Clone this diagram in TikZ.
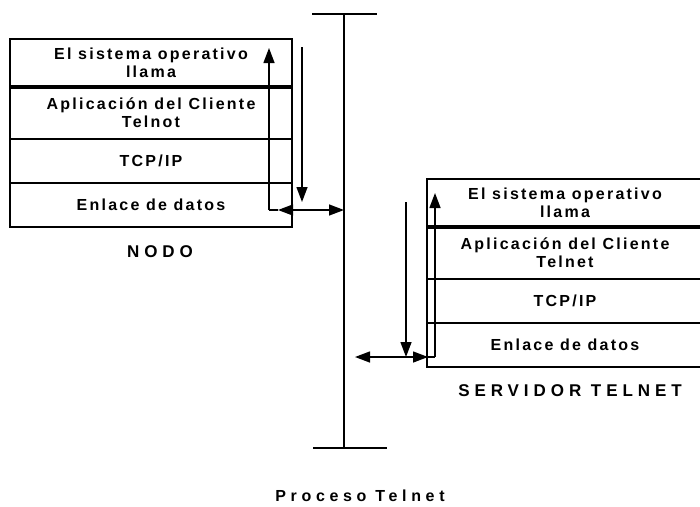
\documentclass[tikz,border=0pt]{standalone}
\usepackage{fontspec}
\setmainfont{Liberation Sans}
\newfontfamily\capafont[LetterSpace=14]{Liberation Sans}
\newfontfamily\titfont[LetterSpace=29]{Liberation Sans}
\usetikzlibrary{positioning,arrows.meta}

\begin{document}
\begin{tikzpicture}[x=1pt, y=-1pt,
    capa/.style={rectangle, draw, line width=1.5pt, inner sep=0pt, outer sep=0pt, align=center, font=\capafont\bfseries\fontsize{16}{18}\selectfont},
    nodo/.style={capa, minimum width=282pt},
    serv/.style={capa, minimum width=276pt},
    titulo/.style={font=\titfont\bfseries\fontsize{17}{19}\selectfont},
    f/.style={-{Triangle[length=15pt,width=11pt]}, line width=1.4pt},
    ff/.style={{Triangle[length=15pt,width=11pt]}-{Triangle[length=15pt,width=11pt]}, line width=1.4pt}
]
    \useasboundingbox (0,0) rectangle (700,506);
    % pila del nodo
    \node[nodo, minimum height=48pt] (c1) at (151,63) {El sistema operativo\\llama};
    \node[nodo, minimum height=52pt, below=0pt of c1] (c2) {Aplicación del Cliente\\Telnot};
    \node[nodo, minimum height=44pt, below=0pt of c2] (c3) {TCP/IP};
    \node[nodo, minimum height=44pt, below=0pt of c3] (c4) {Enlace de datos};
    \draw[line width=4.5pt] (c1.south west) -- (c1.south east);
    \node[titulo] (nodo) at (160,252) {NODO};

    % pila del servidor
    \node[serv, minimum height=48pt] (s1) at (565,203) {El sistema operativo\\llama};
    \node[serv, minimum height=52pt, below=0pt of s1] (s2) {Aplicación del Cliente\\Telnet};
    \node[serv, minimum height=44pt, below=0pt of s2] (s3) {TCP/IP};
    \node[serv, minimum height=44pt, below=0pt of s3] (s4) {Enlace de datos};
    \draw[line width=4.5pt] (s1.south west) -- (s1.south east);
    \node[titulo] (servidor) at (570,391) {SERVIDOR TELNET};

    % linea del proceso
    \coordinate (p0) at (344,14);
    \coordinate (p1) at (344,448);
    \draw[line width=1.5pt] (p0) -- (p1);
    \draw[line width=1.5pt] ([xshift=-32pt]p0) -- ([xshift=33pt]p0);
    \draw[line width=1.5pt] ([xshift=-31pt]p1) -- ([xshift=43pt]p1);
    \node[font=\titfont\bfseries\fontsize{16}{18}\selectfont] (proceso) at (360,496) {Proceso Telnet};

    % flechas del nodo
    \coordinate (ca) at (269,210);
    \coordinate (cb) at (269,48);
    \coordinate (cc) at (302,47);
    \coordinate (cd) at (302,202);
    \coordinate (ce) at (278,210);
    \coordinate (cf) at (p0 |- ca);
    \draw[f] (ca) -- (cb);
    \draw[f] (cc) -- (cd);
    \draw[ff] (ce) -- (cf);
    \draw[line width=1.4pt] (ca) -- (ce);

    % flechas del servidor
    \coordinate (sa) at (435,357);
    \coordinate (sb) at (435,193);
    \coordinate (sc) at (406,202);
    \coordinate (sd) at (406,357);
    \coordinate (se) at (355,357);
    \coordinate (sf) at (428,357);
    \draw[f] (sa) -- (sb);
    \draw[f] (sc) -- (sd);
    \draw[ff] (se) -- (sf);
    \draw[line width=1.4pt] (sf) -- (sa);
\end{tikzpicture}
\end{document}
